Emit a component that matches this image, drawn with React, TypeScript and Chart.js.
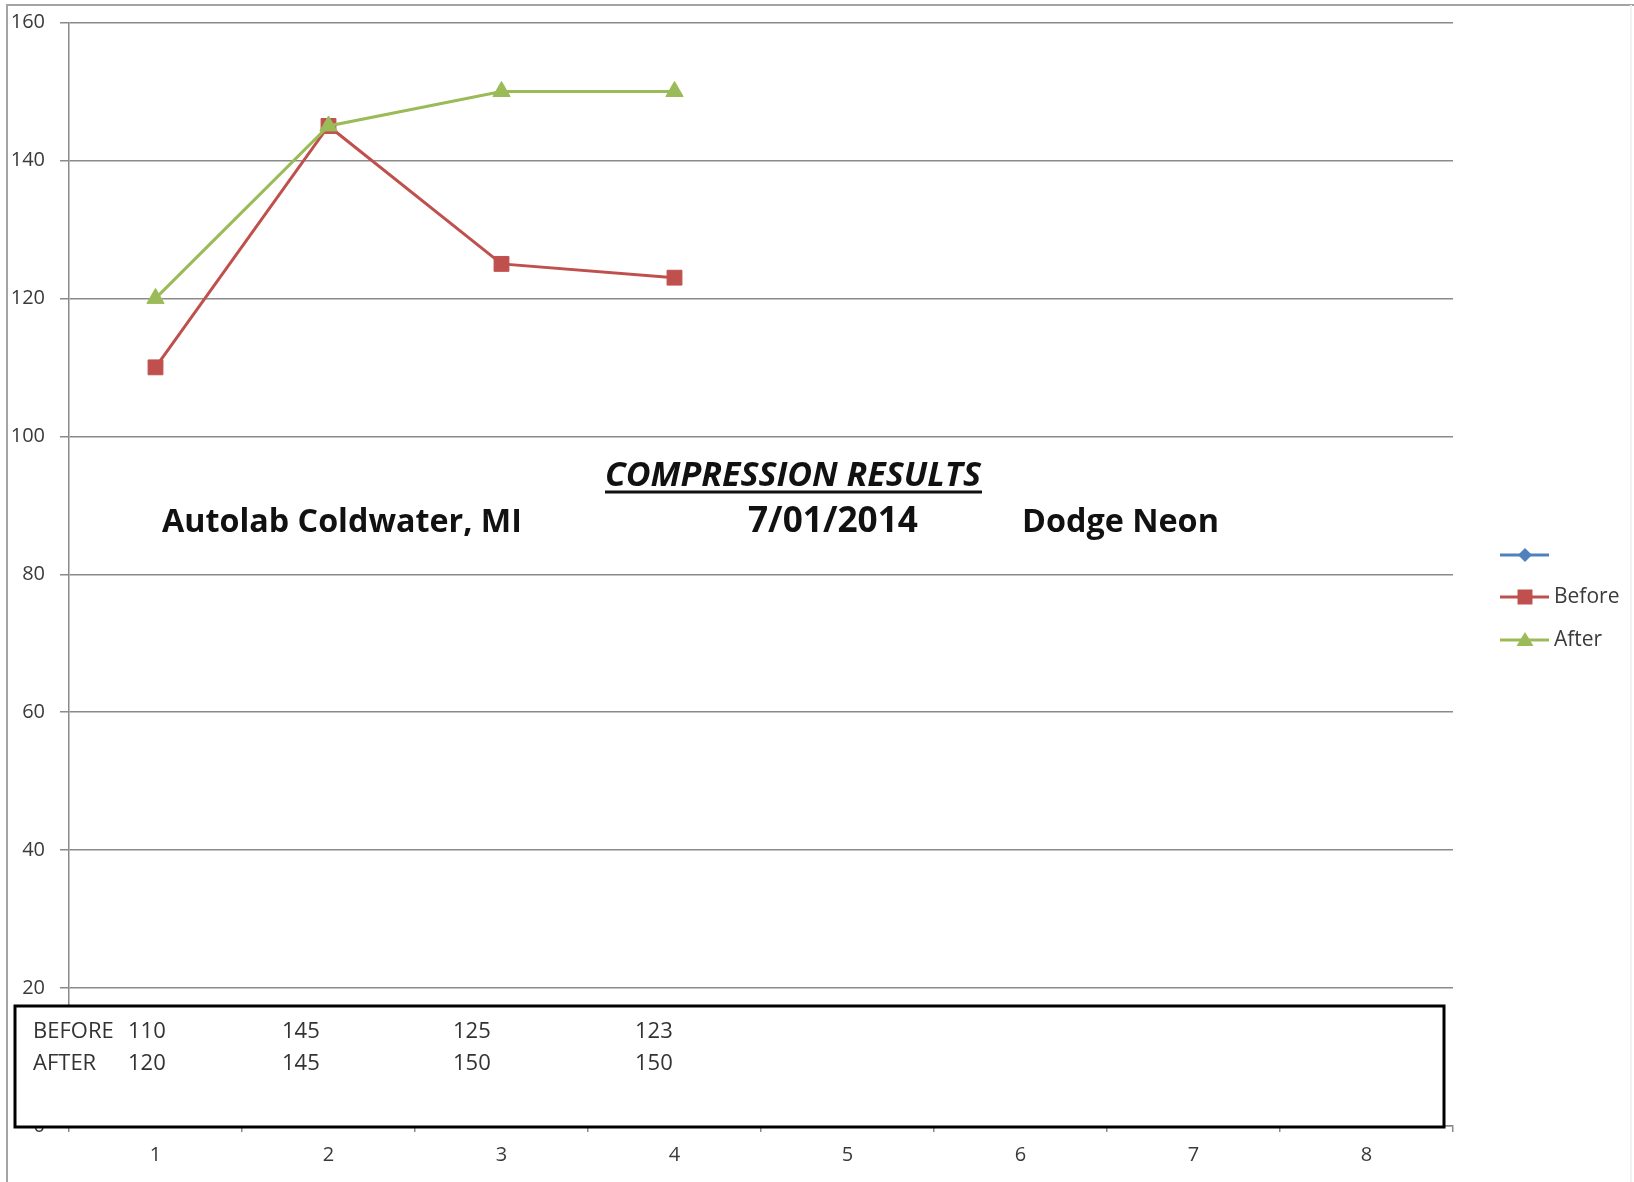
import React, { useEffect, useRef } from 'react';
import { Chart, registerables } from 'chart.js';

Chart.register(...registerables);

// ---- data ----
const CYLINDERS = ['1', '2', '3', '4', '5', '6', '7', '8'];
const BEFORE = [110, 145, 125, 123];
const AFTER = [120, 145, 150, 150];
const SERIES_BLANK: number[] = [];
const Y_MIN = 0;
const Y_MAX = 160;
const Y_STEP = 20;

const TITLE = 'COMPRESSION RESULTS';
const SHOP = 'Autolab Coldwater, MI';
const DATE = '7/01/2014';
const VEHICLE = 'Dodge Neon';
const ROW_LABELS = ['BEFORE', 'AFTER'];
const SERIES_LABELS = ['', 'Before', 'After'];

const BLUE = '#4F81BD';
const RED = '#C0504D';
const GREEN = '#9BBB59';
const GRID = '#8a8a8a';
const TEXT = '#3a3a3a';

// ---- layout constants (pixels) ----
const W = 1634;
const H = 1182;
const TABLE_VALUE_X = [128, 282, 453, 635];

function fitText(
  ctx: CanvasRenderingContext2D,
  text: string,
  left: number,
  baseline: number,
  width: number,
  style: string,
  family: string
) {
  ctx.font = `${style} 100px ${family}`;
  const w = ctx.measureText(text).width;
  const size = (100 * width) / w;
  ctx.font = `${style} ${size}px ${family}`;
  ctx.textAlign = 'left';
  ctx.textBaseline = 'alphabetic';
  ctx.fillText(text, left, baseline);
  return size;
}

const overlay = {
  id: 'overlay',
  afterDraw(chart: any) {
    const ctx: CanvasRenderingContext2D = chart.ctx;
    ctx.save();

    // outer frame (left and top visible, right edge faint)
    ctx.strokeStyle = '#a4a4a4';
    ctx.lineWidth = 2;
    ctx.beginPath();
    ctx.moveTo(7, H);
    ctx.lineTo(7, 5);
    ctx.lineTo(W, 5);
    ctx.stroke();
    ctx.strokeStyle = '#f2f2f2';
    ctx.beginPath();
    ctx.moveTo(1631, 5);
    ctx.lineTo(1631, H);
    ctx.stroke();

    // titles
    ctx.fillStyle = '#111';
    fitText(ctx, TITLE, 605, 486, 376, 'italic 700', '"Open Sans"');
    ctx.fillRect(605, 490.5, 377, 3);
    fitText(ctx, SHOP, 162, 532, 360, '700', '"Open Sans"');
    fitText(ctx, DATE, 748, 532, 170, '700', '"Open Sans"');
    fitText(ctx, VEHICLE, 1022, 532, 197, '700', '"Open Sans"');

    // data table box
    ctx.fillStyle = '#fff';
    ctx.fillRect(15, 1006, 1429, 121);
    ctx.strokeStyle = '#000';
    ctx.lineWidth = 3;
    ctx.strokeRect(15, 1006, 1429, 121);

    ctx.fillStyle = '#333';
    ctx.font = '22px "Open Sans"';
    ctx.textBaseline = 'middle';
    ctx.textAlign = 'left';
    const rows = [BEFORE, AFTER];
    const rowY = [1032, 1064];
    rows.forEach((vals, r) => {
      ctx.fillText(ROW_LABELS[r], 33, rowY[r]);
      vals.forEach((v, i) => ctx.fillText(String(v), TABLE_VALUE_X[i], rowY[r]));
    });

    // legend
    const legendY = [555, 597, 640];
    chart.data.datasets.forEach((ds: any, i: number) => {
      const y = legendY[i];
      ctx.strokeStyle = ds.borderColor;
      ctx.lineWidth = 3;
      ctx.beginPath();
      ctx.moveTo(1500, y);
      ctx.lineTo(1549, y);
      ctx.stroke();
      ctx.fillStyle = ds.backgroundColor;
      const cx = 1525;
      ctx.beginPath();
      if (ds.pointStyle === 'rect') {
        ctx.rect(cx - 7.5, y - 7.5, 15, 15);
      } else if (ds.pointStyle === 'triangle') {
        ctx.moveTo(cx, y - 8);
        ctx.lineTo(cx + 8.5, y + 6);
        ctx.lineTo(cx - 8.5, y + 6);
        ctx.closePath();
      } else {
        ctx.moveTo(cx, y - 7);
        ctx.lineTo(cx + 7, y);
        ctx.lineTo(cx, y + 7);
        ctx.lineTo(cx - 7, y);
        ctx.closePath();
      }
      ctx.fill();
      if (ds.label) {
        ctx.fillStyle = TEXT;
        ctx.font = '21px "Open Sans"';
        ctx.textBaseline = 'middle';
        ctx.fillText(ds.label, 1554, y);
      }
    });

    ctx.restore();
  },
};

export default function App() {
  const ref = useRef<HTMLCanvasElement>(null);

  useEffect(() => {
    if (!ref.current) return;
    const chart = new Chart(ref.current, {
      type: 'line',
      data: {
        labels: CYLINDERS,
        datasets: [
          {
            label: SERIES_LABELS[0],
            data: SERIES_BLANK,
            borderColor: BLUE,
            backgroundColor: BLUE,
            pointStyle: 'rectRot',
            order: 2,
          },
          {
            label: SERIES_LABELS[1],
            data: BEFORE,
            borderColor: RED,
            backgroundColor: RED,
            borderWidth: 3,
            pointStyle: 'rect',
            pointRadius: 10.5,
            pointBorderWidth: 1,
            tension: 0,
            order: 1,
          },
          {
            label: SERIES_LABELS[2],
            data: AFTER,
            borderColor: GREEN,
            backgroundColor: GREEN,
            borderWidth: 3,
            pointStyle: 'triangle',
            pointRadius: 10,
            pointBorderWidth: 1,
            tension: 0,
            order: 0,
          },
        ] as any,
      },
      options: {
        responsive: false,
        animation: false,
        layout: { padding: { left: 0, right: 181, top: 22.5, bottom: 0 } },
        plugins: {
          legend: { display: false },
          tooltip: { enabled: false },
        },
        scales: {
          x: {
            type: 'category',
            offset: true,
            grid: {
              offset: true,
              drawOnChartArea: false,
              drawTicks: true,
              tickLength: 6,
              color: GRID,
              lineWidth: 1.5,
            },
            border: { display: true, color: GRID, width: 1.5 },
            ticks: {
              font: { family: '"Open Sans"', size: 20 },
              color: TEXT,
              padding: 11,
              maxRotation: 0,
              autoSkip: false,
            },
            afterFit: (s: any) => {
              s.height = 56;
            },
          },
          y: {
            min: Y_MIN,
            max: Y_MAX,
            ticks: {
              stepSize: Y_STEP,
              padding: 15,
              font: { family: '"Open Sans"', size: 20 },
              color: TEXT,
            },
            grid: { color: GRID, tickLength: 9, lineWidth: 1.5 },
            border: { display: true, color: GRID, width: 1.5 },
            afterFit: (s: any) => {
              s.width = 69;
              s.paddingTop = 10;
              s.paddingBottom = 10;
            },
          },
        },
      } as any,
      plugins: [overlay],
    });
    return () => chart.destroy();
  }, []);

  return (
    <div style={{ position: 'absolute', left: 0, top: 0, width: W, height: H, background: '#fff' }}>
      <canvas ref={ref} width={W} height={H} style={{ width: W, height: H, display: 'block' }} />
    </div>
  );
}
